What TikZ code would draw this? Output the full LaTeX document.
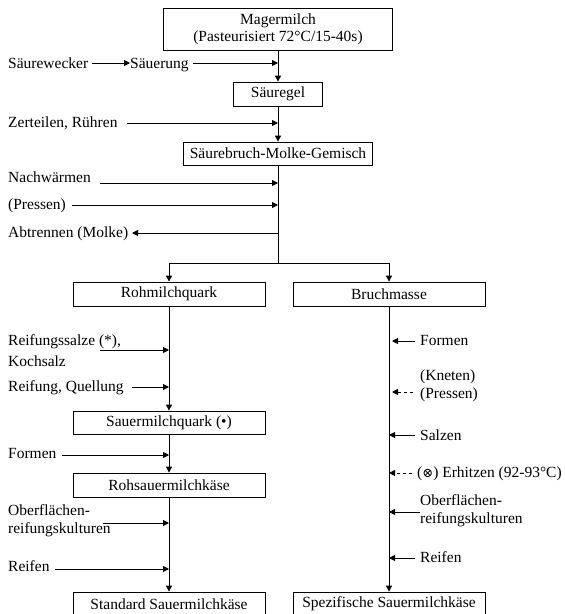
\documentclass[tikz,border=0pt]{standalone}
\usepackage{fontspec}
\setmainfont{Liberation Serif}
\newfontfamily\symfont{DejaVu Serif}
\usetikzlibrary{arrows.meta}
\begin{document}
\begin{tikzpicture}[x=1pt,y=-1pt,
  every node/.style={font=\fontsize{15.5}{18.5}\selectfont, inner sep=0pt},
  box/.style={draw, line width=0.8pt, minimum height=24pt, inner sep=0pt, align=center},
  lab/.style={anchor=base west, align=left},
  flow/.style={line width=0.9pt},
  arr/.style={flow, -{Triangle[length=6pt,width=6pt]}},
  darr/.style={arr, dash pattern=on 3pt off 3pt},
]
\useasboundingbox (0,0) rectangle (565,614);
\clip (0,0) rectangle (565,614);

% boxes
\node[box, minimum width=229pt, minimum height=42pt] (mager) at (278,29) {Magermilch\\[-1.5pt](Pasteurisiert 72°C/15-40s)};
\node[box, minimum width=89pt] (gel) at (278,94) {Säuregel};
\node[box, minimum width=189pt, minimum height=23pt] (gemisch) at (278,153.5) {Säurebruch-Molke-Gemisch};
\node[box, minimum width=192pt] (roh) at (169,294) {Rohmilchquark};
\node[box, minimum width=192pt] (bruch) at (389,294) {Bruchmasse};
\node[box, minimum width=192pt, minimum height=23pt] (sauer) at (169,422.5) {Sauermilchquark (•)};
\node[box, minimum width=192pt] (rohsauer) at (169,485) {Rohsauermilchkäse};
\node[box, minimum width=192pt] (standard) at (169,604) {Standard Sauermilchkäse};
\node[box, minimum width=192pt] (spez) at (389,604) {Spezifische Sauermilchkäse};

% left labels (base = baseline of last line)
\node[lab] (wecker) at (8,68) {Säurewecker};
\node[lab] (saeuerung) at (130,68) {Säuerung};
\node[lab] (zerteilen) at (8,127) {Zerteilen, Rühren};
\node[lab] (nachw) at (8,182) {Nachwärmen};
\node[lab] (pressA) at (8,209) {(Pressen)};
\node[lab] (abtr) at (8,237) {Abtrennen (Molke)};
\node[lab] (rsalze) at (8,366) {Reifungssalze (*),\\[2.5pt]Kochsalz};
\node[lab] (rquell) at (8,391) {Reifung, Quellung};
\node[lab] (formL) at (8,458) {Formen};
\node[lab] (oberL) at (8,533) {Oberflächen-\\[-0.5pt]reifungskulturen};
\node[lab] (reifL) at (8,571) {Reifen};

% right labels
\node[lab] (formR) at (420,345) {Formen};
\node[lab] (knet) at (420,398) {(Kneten)\\[-0.5pt](Pressen)};
\node[lab] (salz) at (420,440) {Salzen};
\node[lab] (erh) at (417,477) {({\symfont\fontsize{13}{13}\selectfont ⊗}) Erhitzen (92-93°C)};
\node[lab] (oberR) at (420,523) {Oberflächen-\\[-0.5pt]reifungskulturen};
\node[lab] (reifR) at (420,562) {Reifen};

% coordinates
\coordinate (split) at (278,263);
\coordinate (w0) at (92,63);
\coordinate (s0) at (193,63);   \coordinate (s1) at (278,63);
\coordinate (z0) at (127,123);  \coordinate (z1) at (278,123);
\coordinate (n0) at (100,183);  \coordinate (n1) at (278,183);
\coordinate (p0) at (72,205);   \coordinate (p1) at (278,205);
\coordinate (a0) at (278,233);  \coordinate (a1) at (132,233);
\coordinate (rs0) at (100,350); \coordinate (rs1) at (169,350);
\coordinate (rq0) at (132,387); \coordinate (rq1) at (169,387);
\coordinate (fl0) at (62,455);  \coordinate (fl1) at (169,455);
\coordinate (ol0) at (103,523); \coordinate (ol1) at (169,523);
\coordinate (rl0) at (55,569);  \coordinate (rl1) at (169,569);
\coordinate (fr0) at (415,341); \coordinate (fr1) at (392,341);
\coordinate (kn0) at (413,392); \coordinate (kn1) at (392,392);
\coordinate (sz0) at (415,435); \coordinate (sz1) at (389,435);
\coordinate (eh0) at (412,473); \coordinate (eh1) at (389,473);
\coordinate (or0) at (420,512); \coordinate (or1) at (389,512);
\coordinate (rr0) at (415,558); \coordinate (rr1) at (389,558);

% main flow
\draw[arr] (mager.south) -- (gel.north);
\draw[arr] (gel.south) -- (gemisch.north);
\draw[flow] (gemisch.south) -- (split);
\draw[arr] (split) -| (roh.north);
\draw[arr] (split) -| (bruch.north);
\draw[arr] (roh.south) -- (sauer.north);
\draw[arr] (sauer.south) -- (rohsauer.north);
\draw[arr] (rohsauer.south) -- (standard.north);
\draw[arr] (bruch.south) -- (spez.north);

% side arrows left
\draw[arr] (w0) -- (saeuerung.west |- w0);
\draw[arr] (s0) -- (s1);
\draw[arr] (z0) -- (z1);
\draw[arr] (n0) -- (n1);
\draw[arr] (p0) -- (p1);
\draw[arr] (a0) -- (a1);
\draw[arr] (rs0) -- (rs1);
\draw[arr] (rq0) -- (rq1);
\draw[arr] (fl0) -- (fl1);
\draw[arr] (ol0) -- (ol1);
\draw[arr] (rl0) -- (rl1);

% side arrows right
\draw[arr] (fr0) -- (fr1);
\draw[darr] (kn0) -- (kn1);
\draw[arr] (sz0) -- (sz1);
\draw[darr] (eh0) -- (eh1);
\draw[arr] (or0) -- (or1);
\draw[arr] (rr0) -- (rr1);
\end{tikzpicture}
\end{document}
